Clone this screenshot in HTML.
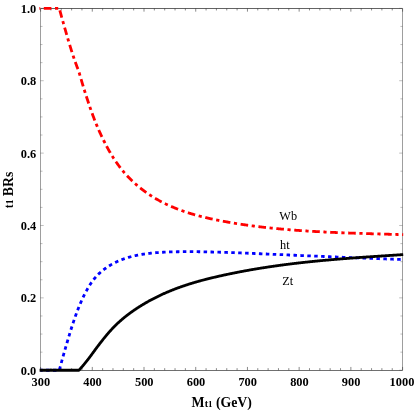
<!DOCTYPE html>
<html><head><meta charset="utf-8"><title>plot</title>
<style>
html,body{margin:0;padding:0;background:#fff;}
svg{display:block;will-change:transform;font-family:"Liberation Serif",serif;}
</style></head><body>
<svg width="415" height="410" viewBox="0 0 415 410">
<rect width="415" height="410" fill="#fff"/>
<path d="M40 8.5 H403" stroke="#646464" stroke-width="1" fill="none"/><path d="M40 370.5 H403" stroke="#707070" stroke-width="1" fill="none"/><path d="M40.5 8 V371 M402.5 8 V371" stroke="#9e9e9e" stroke-width="1" fill="none"/><path d="M40.58 370.25 v-3.30 M40.58 8.35 v3.30 M50.92 370.25 v-2.10 M50.92 8.35 v2.10 M61.27 370.25 v-2.10 M61.27 8.35 v2.10 M71.61 370.25 v-2.10 M71.61 8.35 v2.10 M81.95 370.25 v-2.10 M81.95 8.35 v2.10 M92.29 370.25 v-3.30 M92.29 8.35 v3.30 M102.64 370.25 v-2.10 M102.64 8.35 v2.10 M112.98 370.25 v-2.10 M112.98 8.35 v2.10 M123.32 370.25 v-2.10 M123.32 8.35 v2.10 M133.67 370.25 v-2.10 M133.67 8.35 v2.10 M144.01 370.25 v-3.30 M144.01 8.35 v3.30 M154.35 370.25 v-2.10 M154.35 8.35 v2.10 M164.69 370.25 v-2.10 M164.69 8.35 v2.10 M175.04 370.25 v-2.10 M175.04 8.35 v2.10 M185.38 370.25 v-2.10 M185.38 8.35 v2.10 M195.72 370.25 v-3.30 M195.72 8.35 v3.30 M206.07 370.25 v-2.10 M206.07 8.35 v2.10 M216.41 370.25 v-2.10 M216.41 8.35 v2.10 M226.75 370.25 v-2.10 M226.75 8.35 v2.10 M237.09 370.25 v-2.10 M237.09 8.35 v2.10 M247.44 370.25 v-3.30 M247.44 8.35 v3.30 M257.78 370.25 v-2.10 M257.78 8.35 v2.10 M268.12 370.25 v-2.10 M268.12 8.35 v2.10 M278.47 370.25 v-2.10 M278.47 8.35 v2.10 M288.81 370.25 v-2.10 M288.81 8.35 v2.10 M299.15 370.25 v-3.30 M299.15 8.35 v3.30 M309.49 370.25 v-2.10 M309.49 8.35 v2.10 M319.84 370.25 v-2.10 M319.84 8.35 v2.10 M330.18 370.25 v-2.10 M330.18 8.35 v2.10 M340.52 370.25 v-2.10 M340.52 8.35 v2.10 M350.87 370.25 v-3.30 M350.87 8.35 v3.30 M361.21 370.25 v-2.10 M361.21 8.35 v2.10 M371.55 370.25 v-2.10 M371.55 8.35 v2.10 M381.89 370.25 v-2.10 M381.89 8.35 v2.10 M392.24 370.25 v-2.10 M392.24 8.35 v2.10 M402.58 370.25 v-3.30 M402.58 8.35 v3.30" stroke="#3a3a3a" stroke-width="0.6" fill="none"/><path d="M40.40 370.25 h3.30 M402.50 370.25 h-3.30 M40.40 352.15 h2.10 M402.50 352.15 h-2.10 M40.40 334.06 h2.10 M402.50 334.06 h-2.10 M40.40 315.97 h2.10 M402.50 315.97 h-2.10 M40.40 297.87 h3.30 M402.50 297.87 h-3.30 M40.40 279.77 h2.10 M402.50 279.77 h-2.10 M40.40 261.68 h2.10 M402.50 261.68 h-2.10 M40.40 243.59 h2.10 M402.50 243.59 h-2.10 M40.40 225.49 h3.30 M402.50 225.49 h-3.30 M40.40 207.40 h2.10 M402.50 207.40 h-2.10 M40.40 189.30 h2.10 M402.50 189.30 h-2.10 M40.40 171.21 h2.10 M402.50 171.21 h-2.10 M40.40 153.11 h3.30 M402.50 153.11 h-3.30 M40.40 135.02 h2.10 M402.50 135.02 h-2.10 M40.40 116.92 h2.10 M402.50 116.92 h-2.10 M40.40 98.83 h2.10 M402.50 98.83 h-2.10 M40.40 80.73 h3.30 M402.50 80.73 h-3.30 M40.40 62.63 h2.10 M402.50 62.63 h-2.10 M40.40 44.54 h2.10 M402.50 44.54 h-2.10 M40.40 26.45 h2.10 M402.50 26.45 h-2.10 M40.40 8.35 h3.30 M402.50 8.35 h-3.30" stroke="#444" stroke-width="0.35" fill="none"/>
<polyline points="39.40,8.35 59.30,8.35" fill="none" stroke="#f00" stroke-width="2.8" stroke-dasharray="3.2 3.6 7.6 3.6" stroke-dashoffset="2.40"/>
<polyline points="59.30,8.35 59.80,10.23 60.30,12.10 60.80,13.95 61.30,15.78 61.80,17.60 62.30,19.40 62.80,21.19 63.30,22.97 63.80,24.73 64.30,26.49 64.80,28.23 65.30,29.97 65.80,31.70 66.30,33.42 66.80,35.14 67.30,36.84 67.80,38.54 68.30,40.23 68.80,41.90 69.30,43.56 69.80,45.21 70.30,46.84 70.80,48.46 71.30,50.06 71.80,51.64 72.30,53.20 72.80,54.74 73.30,56.25 73.80,57.75 74.30,59.22 74.80,60.66 75.30,62.08 75.80,63.48 76.30,64.85 76.80,66.20 77.30,67.52 77.80,68.82 78.30,70.10 78.80,71.36 79.30,73.03 79.80,74.79 80.30,76.54 80.80,78.26 81.30,79.97 81.80,81.66 82.30,83.34 82.80,85.00 83.30,86.64 83.80,88.27 84.30,89.88 84.80,91.48 85.30,93.07 85.80,94.64 86.30,96.20 86.80,97.75 87.30,99.28 87.80,100.80 88.30,102.31 88.80,103.80 89.30,105.27 89.80,106.73 90.30,108.18 90.80,109.61 91.30,111.02 91.80,112.42 92.30,113.79 92.80,115.15 93.30,116.50 93.80,117.82 94.30,119.13 94.80,120.42 95.30,121.69 95.80,122.94 96.30,124.17 96.80,125.39 97.30,126.59 97.80,127.77 98.30,128.93 98.80,130.08 99.30,131.21 99.80,132.33 100.30,133.43 100.80,134.52 101.30,135.59 101.80,136.65 102.30,137.70 102.80,138.73 103.30,139.75 103.80,140.75 104.30,141.75 104.80,142.73 105.30,143.70 105.80,144.66 106.30,145.61 106.80,146.55 107.30,147.48 107.80,148.39 108.30,149.30 108.80,150.19 109.30,151.07 109.80,151.94 110.30,152.80 110.80,153.65 111.30,154.49 111.80,155.31 112.30,156.12 112.80,156.93 113.30,157.72 113.80,158.50 114.30,159.27 114.80,160.02 115.30,160.77 115.80,161.51 116.30,162.24 116.80,162.95 117.30,163.66 117.80,164.36 118.30,165.05 118.80,165.72 119.30,166.39 119.80,167.05 120.30,167.70 120.80,168.35 121.30,168.98 121.80,169.61 122.30,170.22 122.80,170.83 123.30,171.43 123.80,172.03 124.30,172.61 124.80,173.19 125.30,173.76 125.80,174.32 126.30,174.88 126.80,175.42 127.30,175.96 127.80,176.50 128.30,177.03 128.80,177.55 129.30,178.06 129.80,178.57 130.30,179.07 130.80,179.57 131.30,180.06 131.80,180.54 132.30,181.02 132.80,181.50 133.30,181.96 133.80,182.43 134.30,182.88 134.80,183.34 135.30,183.78 135.80,184.23 136.30,184.67 136.80,185.10 137.30,185.53 137.80,185.95 138.30,186.37 138.80,186.79 139.30,187.20 139.80,187.61 140.30,188.01 140.80,188.41 141.30,188.81 141.80,189.20 142.30,189.59 142.80,189.97 143.30,190.35 143.80,190.73 144.30,191.10 144.80,191.47 145.30,191.83 145.80,192.19 146.30,192.55 146.80,192.90 147.30,193.25 147.80,193.60 148.30,193.94 148.80,194.28 149.30,194.61 149.80,194.94 150.30,195.27 150.80,195.60 151.30,195.92 151.80,196.24 152.30,196.55 152.80,196.87 153.30,197.18 153.80,197.48 154.30,197.78 154.80,198.08 155.30,198.38 155.80,198.67 156.30,198.96 156.80,199.25 157.30,199.54 157.80,199.82 158.30,200.10 158.80,200.37 159.30,200.65 159.80,200.92 160.30,201.19 160.80,201.45 161.30,201.71 161.80,201.97 162.30,202.23 162.80,202.49 163.30,202.74 163.80,202.99 164.30,203.24 164.80,203.48 165.30,203.72 165.80,203.97 166.30,204.20 166.80,204.44 167.30,204.67 167.80,204.91 168.30,205.14 168.80,205.36 169.30,205.59 169.80,205.81 170.30,206.03 170.80,206.25 171.30,206.47 171.80,206.69 172.30,206.90 172.80,207.11 173.30,207.32 173.80,207.53 174.30,207.74 174.80,207.94 175.30,208.15 175.80,208.35 176.30,208.55 176.80,208.74 177.30,208.94 177.80,209.13 178.30,209.32 178.80,209.52 179.30,209.70 179.80,209.89 180.30,210.08 180.80,210.26 181.30,210.44 181.80,210.62 182.30,210.80 182.80,210.98 183.30,211.15 183.80,211.33 184.30,211.50 184.80,211.67 185.30,211.84 185.80,212.01 186.30,212.17 186.80,212.34 187.30,212.50 187.80,212.66 188.30,212.82 188.80,212.98 189.30,213.14 189.80,213.29 190.30,213.45 190.80,213.60 191.30,213.75 191.80,213.90 192.30,214.05 192.80,214.20 193.30,214.35 193.80,214.49 194.30,214.64 194.80,214.78 195.30,214.92 195.80,215.06 196.30,215.20 196.80,215.34 197.30,215.47 197.80,215.61 198.30,215.74 198.80,215.88 199.30,216.01 199.80,216.14 200.30,216.27 200.80,216.40 201.30,216.53 201.80,216.65 202.30,216.78 202.80,216.90 203.30,217.02 203.80,217.15 204.30,217.27 204.80,217.39 205.30,217.51 205.80,217.63 206.30,217.74 206.80,217.86 207.30,217.97 207.80,218.09 208.30,218.20 208.80,218.32 209.30,218.43 209.80,218.54 210.30,218.65 210.80,218.76 211.30,218.87 211.80,218.98 212.30,219.08 212.80,219.19 213.30,219.29 213.80,219.40 214.30,219.50 214.80,219.61 215.30,219.71 215.80,219.81 216.30,219.91 216.80,220.01 217.30,220.11 217.80,220.21 218.30,220.31 218.80,220.41 219.30,220.51 219.80,220.61 220.30,220.70 220.80,220.80 221.30,220.89 221.80,220.99 222.30,221.08 222.80,221.18 223.30,221.27 223.80,221.37 224.30,221.46 224.80,221.55 225.30,221.64 225.80,221.73 226.30,221.82 226.80,221.91 227.30,222.00 227.80,222.09 228.30,222.18 228.80,222.27 229.30,222.35 229.80,222.44 230.30,222.53 230.80,222.61 231.30,222.70 231.80,222.78 232.30,222.87 232.80,222.95 233.30,223.03 233.80,223.12 234.30,223.20 234.80,223.28 235.30,223.36 235.80,223.44 236.30,223.52 236.80,223.60 237.30,223.68 237.80,223.76 238.30,223.84 238.80,223.92 239.30,224.00 239.80,224.08 240.30,224.15 240.80,224.23 241.30,224.30 241.80,224.38 242.30,224.45 242.80,224.53 243.30,224.60 243.80,224.68 244.30,224.75 244.80,224.82 245.30,224.89 245.80,224.97 246.30,225.04 246.80,225.11 247.30,225.18 247.80,225.25 248.30,225.32 248.80,225.39 249.30,225.46 249.80,225.52 250.30,225.59 250.80,225.66 251.30,225.73 251.80,225.79 252.30,225.86 252.80,225.93 253.30,225.99 253.80,226.06 254.30,226.12 254.80,226.18 255.30,226.25 255.80,226.31 256.30,226.37 256.80,226.44 257.30,226.50 257.80,226.56 258.30,226.62 258.80,226.68 259.30,226.74 259.80,226.80 260.30,226.86 260.80,226.92 261.30,226.98 261.80,227.04 262.30,227.10 262.80,227.16 263.30,227.21 263.80,227.27 264.30,227.33 264.80,227.38 265.30,227.44 265.80,227.50 266.30,227.55 266.80,227.61 267.30,227.66 267.80,227.72 268.30,227.77 268.80,227.82 269.30,227.88 269.80,227.93 270.30,227.98 270.80,228.03 271.30,228.08 271.80,228.14 272.30,228.19 272.80,228.24 273.30,228.29 273.80,228.34 274.30,228.39 274.80,228.44 275.30,228.49 275.80,228.54 276.30,228.58 276.80,228.63 277.30,228.68 277.80,228.73 278.30,228.77 278.80,228.82 279.30,228.87 279.80,228.91 280.30,228.96 280.80,229.01 281.30,229.05 281.80,229.10 282.30,229.14 282.80,229.18 283.30,229.23 283.80,229.27 284.30,229.32 284.80,229.36 285.30,229.40 285.80,229.44 286.30,229.49 286.80,229.53 287.30,229.57 287.80,229.61 288.30,229.65 288.80,229.69 289.30,229.74 289.80,229.78 290.30,229.82 290.80,229.86 291.30,229.89 291.80,229.93 292.30,229.97 292.80,230.01 293.30,230.05 293.80,230.09 294.30,230.13 294.80,230.16 295.30,230.20 295.80,230.24 296.30,230.28 296.80,230.31 297.30,230.35 297.80,230.39 298.30,230.42 298.80,230.46 299.30,230.49 299.80,230.53 300.30,230.56 300.80,230.60 301.30,230.63 301.80,230.67 302.30,230.70 302.80,230.73 303.30,230.77 303.80,230.80 304.30,230.83 304.80,230.87 305.30,230.90 305.80,230.93 306.30,230.96 306.80,230.99 307.30,231.03 307.80,231.06 308.30,231.09 308.80,231.12 309.30,231.15 309.80,231.18 310.30,231.21 310.80,231.24 311.30,231.27 311.80,231.30 312.30,231.33 312.80,231.36 313.30,231.39 313.80,231.42 314.30,231.45 314.80,231.48 315.30,231.50 315.80,231.53 316.30,231.56 316.80,231.59 317.30,231.62 317.80,231.64 318.30,231.67 318.80,231.70 319.30,231.72 319.80,231.75 320.30,231.78 320.80,231.80 321.30,231.83 321.80,231.85 322.30,231.88 322.80,231.91 323.30,231.93 323.80,231.96 324.30,231.98 324.80,232.01 325.30,232.03 325.80,232.05 326.30,232.08 326.80,232.10 327.30,232.13 327.80,232.15 328.30,232.17 328.80,232.20 329.30,232.22 329.80,232.24 330.30,232.27 330.80,232.29 331.30,232.31 331.80,232.33 332.30,232.36 332.80,232.38 333.30,232.40 333.80,232.42 334.30,232.45 334.80,232.47 335.30,232.49 335.80,232.51 336.30,232.53 336.80,232.55 337.30,232.57 337.80,232.59 338.30,232.61 338.80,232.63 339.30,232.65 339.80,232.67 340.30,232.69 340.80,232.71 341.30,232.73 341.80,232.75 342.30,232.77 342.80,232.79 343.30,232.81 343.80,232.83 344.30,232.85 344.80,232.87 345.30,232.89 345.80,232.91 346.30,232.93 346.80,232.94 347.30,232.96 347.80,232.98 348.30,233.00 348.80,233.02 349.30,233.04 349.80,233.05 350.30,233.07 350.80,233.09 351.30,233.11 351.80,233.12 352.30,233.14 352.80,233.16 353.30,233.18 353.80,233.19 354.30,233.21 354.80,233.23 355.30,233.24 355.80,233.26 356.30,233.28 356.80,233.29 357.30,233.31 357.80,233.33 358.30,233.34 358.80,233.36 359.30,233.38 359.80,233.39 360.30,233.41 360.80,233.42 361.30,233.44 361.80,233.46 362.30,233.47 362.80,233.49 363.30,233.50 363.80,233.52 364.30,233.53 364.80,233.55 365.30,233.57 365.80,233.58 366.30,233.60 366.80,233.61 367.30,233.63 367.80,233.64 368.30,233.66 368.80,233.67 369.30,233.69 369.80,233.70 370.30,233.72 370.80,233.73 371.30,233.75 371.80,233.76 372.30,233.78 372.80,233.79 373.30,233.81 373.80,233.82 374.30,233.83 374.80,233.85 375.30,233.86 375.80,233.88 376.30,233.89 376.80,233.91 377.30,233.92 377.80,233.94 378.30,233.95 378.80,233.97 379.30,233.98 379.80,233.99 380.30,234.01 380.80,234.02 381.30,234.04 381.80,234.05 382.30,234.07 382.80,234.08 383.30,234.09 383.80,234.11 384.30,234.12 384.80,234.14 385.30,234.15 385.80,234.17 386.30,234.18 386.80,234.19 387.30,234.21 387.80,234.22 388.30,234.24 388.80,234.25 389.30,234.27 389.80,234.28 390.30,234.29 390.80,234.31 391.30,234.32 391.80,234.34 392.30,234.35 392.80,234.37 393.30,234.38 393.80,234.40 394.30,234.41 394.80,234.42 395.30,234.44 395.80,234.45 396.30,234.47 396.80,234.48 397.30,234.50 397.80,234.51 398.30,234.53 398.80,234.54 399.30,234.56 399.80,234.57 400.30,234.59 400.80,234.60 401.30,234.62 401.80,234.63 402.30,234.65 402.50,234.65 403.20,234.67" fill="none" stroke="#f00" stroke-width="2.8" stroke-dasharray="3.2 3.6 7.6 3.6" stroke-dashoffset="4.80" stroke-linejoin="round"/>
<polyline points="40.40,370.25 59.30,370.25 59.80,368.37 60.30,366.50 60.80,364.65 61.30,362.82 61.80,361.00 62.30,359.20 62.80,357.41 63.30,355.63 63.80,353.87 64.30,352.11 64.80,350.37 65.30,348.63 65.80,346.90 66.30,345.18 66.80,343.46 67.30,341.76 67.80,340.06 68.30,338.37 68.80,336.70 69.30,335.04 69.80,333.39 70.30,331.76 70.80,330.14 71.30,328.54 71.80,326.96 72.30,325.40 72.80,323.86 73.30,322.35 73.80,320.85 74.30,319.38 74.80,317.94 75.30,316.52 75.80,315.12 76.30,313.75 76.80,312.40 77.30,311.08 77.80,309.78 78.30,308.50 78.80,307.24 79.30,306.01 79.80,304.80 80.30,303.62 80.80,302.45 81.30,301.31 81.80,300.19 82.30,299.09 82.80,298.01 83.30,296.95 83.80,295.92 84.30,294.90 84.80,293.91 85.30,292.93 85.80,291.98 86.30,291.05 86.80,290.13 87.30,289.24 87.80,288.37 88.30,287.51 88.80,286.68 89.30,285.86 89.80,285.07 90.30,284.30 90.80,283.54 91.30,282.80 91.80,282.08 92.30,281.39 92.80,280.71 93.30,280.04 93.80,279.40 94.30,278.77 94.80,278.17 95.30,277.57 95.80,277.00 96.30,276.44 96.80,275.89 97.30,275.37 97.80,274.85 98.30,274.35 98.80,273.86 99.30,273.38 99.80,272.92 100.30,272.47 100.80,272.03 101.30,271.60 101.80,271.18 102.30,270.77 102.80,270.37 103.30,269.98 103.80,269.59 104.30,269.22 104.80,268.85 105.30,268.48 105.80,268.13 106.30,267.78 106.80,267.44 107.30,267.10 107.80,266.77 108.30,266.44 108.80,266.12 109.30,265.81 109.80,265.50 110.30,265.20 110.80,264.90 111.30,264.61 111.80,264.33 112.30,264.05 112.80,263.77 113.30,263.51 113.80,263.24 114.30,262.98 114.80,262.73 115.30,262.48 115.80,262.23 116.30,261.99 116.80,261.76 117.30,261.53 117.80,261.30 118.30,261.08 118.80,260.86 119.30,260.65 119.80,260.44 120.30,260.23 120.80,260.03 121.30,259.83 121.80,259.64 122.30,259.45 122.80,259.26 123.30,259.08 123.80,258.90 124.30,258.72 124.80,258.55 125.30,258.38 125.80,258.22 126.30,258.05 126.80,257.89 127.30,257.74 127.80,257.59 128.30,257.44 128.80,257.29 129.30,257.15 129.80,257.01 130.30,256.87 130.80,256.74 131.30,256.61 131.80,256.48 132.30,256.35 132.80,256.23 133.30,256.11 133.80,255.99 134.30,255.88 134.80,255.76 135.30,255.65 135.80,255.55 136.30,255.44 136.80,255.34 137.30,255.24 137.80,255.14 138.30,255.04 138.80,254.95 139.30,254.85 139.80,254.76 140.30,254.67 140.80,254.58 141.30,254.50 141.80,254.42 142.30,254.33 142.80,254.25 143.30,254.18 143.80,254.10 144.30,254.02 144.80,253.95 145.30,253.88 145.80,253.81 146.30,253.74 146.80,253.68 147.30,253.61 147.80,253.55 148.30,253.49 148.80,253.43 149.30,253.37 149.80,253.31 150.30,253.25 150.80,253.20 151.30,253.14 151.80,253.09 152.30,253.04 152.80,252.99 153.30,252.95 153.80,252.90 154.30,252.85 154.80,252.81 155.30,252.77 155.80,252.72 156.30,252.68 156.80,252.65 157.30,252.61 157.80,252.57 158.30,252.53 158.80,252.50 159.30,252.46 159.80,252.43 160.30,252.40 160.80,252.37 161.30,252.34 161.80,252.31 162.30,252.28 162.80,252.25 163.30,252.23 163.80,252.20 164.30,252.18 164.80,252.15 165.30,252.13 165.80,252.11 166.30,252.09 166.80,252.07 167.30,252.04 167.80,252.03 168.30,252.01 168.80,251.99 169.30,251.97 169.80,251.95 170.30,251.94 170.80,251.92 171.30,251.90 171.80,251.89 172.30,251.87 172.80,251.86 173.30,251.85 173.80,251.83 174.30,251.82 174.80,251.81 175.30,251.80 175.80,251.79 176.30,251.78 176.80,251.77 177.30,251.76 177.80,251.75 178.30,251.74 178.80,251.73 179.30,251.72 179.80,251.72 180.30,251.71 180.80,251.70 181.30,251.70 181.80,251.69 182.30,251.69 182.80,251.68 183.30,251.68 183.80,251.67 184.30,251.67 184.80,251.67 185.30,251.66 185.80,251.66 186.30,251.66 186.80,251.66 187.30,251.66 187.80,251.66 188.30,251.66 188.80,251.66 189.30,251.66 189.80,251.66 190.30,251.66 190.80,251.66 191.30,251.66 191.80,251.67 192.30,251.67 192.80,251.67 193.30,251.68 193.80,251.68 194.30,251.68 194.80,251.69 195.30,251.69 195.80,251.70 196.30,251.70 196.80,251.71 197.30,251.72 197.80,251.72 198.30,251.73 198.80,251.74 199.30,251.74 199.80,251.75 200.30,251.76 200.80,251.77 201.30,251.78 201.80,251.78 202.30,251.79 202.80,251.80 203.30,251.81 203.80,251.82 204.30,251.83 204.80,251.84 205.30,251.85 205.80,251.86 206.30,251.87 206.80,251.88 207.30,251.90 207.80,251.91 208.30,251.92 208.80,251.93 209.30,251.94 209.80,251.95 210.30,251.97 210.80,251.98 211.30,251.99 211.80,252.01 212.30,252.02 212.80,252.03 213.30,252.05 213.80,252.06 214.30,252.07 214.80,252.09 215.30,252.10 215.80,252.12 216.30,252.13 216.80,252.14 217.30,252.16 217.80,252.17 218.30,252.19 218.80,252.20 219.30,252.22 219.80,252.23 220.30,252.25 220.80,252.27 221.30,252.28 221.80,252.30 222.30,252.31 222.80,252.33 223.30,252.34 223.80,252.36 224.30,252.38 224.80,252.39 225.30,252.41 225.80,252.43 226.30,252.44 226.80,252.46 227.30,252.48 227.80,252.49 228.30,252.51 228.80,252.53 229.30,252.54 229.80,252.56 230.30,252.58 230.80,252.60 231.30,252.61 231.80,252.63 232.30,252.65 232.80,252.67 233.30,252.68 233.80,252.70 234.30,252.72 234.80,252.74 235.30,252.76 235.80,252.78 236.30,252.79 236.80,252.81 237.30,252.83 237.80,252.85 238.30,252.87 238.80,252.89 239.30,252.90 239.80,252.92 240.30,252.94 240.80,252.96 241.30,252.98 241.80,253.00 242.30,253.02 242.80,253.04 243.30,253.06 243.80,253.08 244.30,253.10 244.80,253.12 245.30,253.14 245.80,253.15 246.30,253.17 246.80,253.19 247.30,253.21 247.80,253.23 248.30,253.25 248.80,253.27 249.30,253.29 249.80,253.31 250.30,253.33 250.80,253.35 251.30,253.37 251.80,253.40 252.30,253.42 252.80,253.44 253.30,253.46 253.80,253.48 254.30,253.50 254.80,253.52 255.30,253.54 255.80,253.56 256.30,253.58 256.80,253.60 257.30,253.62 257.80,253.64 258.30,253.66 258.80,253.68 259.30,253.71 259.80,253.73 260.30,253.75 260.80,253.77 261.30,253.79 261.80,253.81 262.30,253.83 262.80,253.85 263.30,253.87 263.80,253.90 264.30,253.92 264.80,253.94 265.30,253.96 265.80,253.98 266.30,254.00 266.80,254.02 267.30,254.05 267.80,254.07 268.30,254.09 268.80,254.11 269.30,254.13 269.80,254.15 270.30,254.18 270.80,254.20 271.30,254.22 271.80,254.24 272.30,254.26 272.80,254.29 273.30,254.31 273.80,254.33 274.30,254.35 274.80,254.37 275.30,254.39 275.80,254.42 276.30,254.44 276.80,254.46 277.30,254.48 277.80,254.50 278.30,254.53 278.80,254.55 279.30,254.57 279.80,254.59 280.30,254.61 280.80,254.64 281.30,254.66 281.80,254.68 282.30,254.70 282.80,254.72 283.30,254.75 283.80,254.77 284.30,254.79 284.80,254.81 285.30,254.83 285.80,254.86 286.30,254.88 286.80,254.90 287.30,254.92 287.80,254.94 288.30,254.97 288.80,254.99 289.30,255.01 289.80,255.03 290.30,255.05 290.80,255.08 291.30,255.10 291.80,255.12 292.30,255.14 292.80,255.16 293.30,255.19 293.80,255.21 294.30,255.23 294.80,255.25 295.30,255.27 295.80,255.29 296.30,255.32 296.80,255.34 297.30,255.36 297.80,255.38 298.30,255.40 298.80,255.43 299.30,255.45 299.80,255.47 300.30,255.49 300.80,255.51 301.30,255.53 301.80,255.56 302.30,255.58 302.80,255.60 303.30,255.62 303.80,255.64 304.30,255.66 304.80,255.69 305.30,255.71 305.80,255.73 306.30,255.75 306.80,255.77 307.30,255.79 307.80,255.82 308.30,255.84 308.80,255.86 309.30,255.88 309.80,255.90 310.30,255.92 310.80,255.94 311.30,255.97 311.80,255.99 312.30,256.01 312.80,256.03 313.30,256.05 313.80,256.07 314.30,256.09 314.80,256.12 315.30,256.14 315.80,256.16 316.30,256.18 316.80,256.20 317.30,256.22 317.80,256.24 318.30,256.26 318.80,256.29 319.30,256.31 319.80,256.33 320.30,256.35 320.80,256.37 321.30,256.39 321.80,256.41 322.30,256.43 322.80,256.46 323.30,256.48 323.80,256.50 324.30,256.52 324.80,256.54 325.30,256.56 325.80,256.58 326.30,256.60 326.80,256.62 327.30,256.64 327.80,256.67 328.30,256.69 328.80,256.71 329.30,256.73 329.80,256.75 330.30,256.77 330.80,256.79 331.30,256.81 331.80,256.83 332.30,256.85 332.80,256.87 333.30,256.90 333.80,256.92 334.30,256.94 334.80,256.96 335.30,256.98 335.80,257.00 336.30,257.02 336.80,257.04 337.30,257.06 337.80,257.08 338.30,257.10 338.80,257.12 339.30,257.14 339.80,257.16 340.30,257.18 340.80,257.20 341.30,257.23 341.80,257.25 342.30,257.27 342.80,257.29 343.30,257.31 343.80,257.33 344.30,257.35 344.80,257.37 345.30,257.39 345.80,257.41 346.30,257.43 346.80,257.45 347.30,257.47 347.80,257.49 348.30,257.51 348.80,257.53 349.30,257.55 349.80,257.57 350.30,257.59 350.80,257.61 351.30,257.63 351.80,257.65 352.30,257.67 352.80,257.69 353.30,257.71 353.80,257.73 354.30,257.75 354.80,257.77 355.30,257.79 355.80,257.81 356.30,257.83 356.80,257.85 357.30,257.87 357.80,257.89 358.30,257.91 358.80,257.93 359.30,257.95 359.80,257.97 360.30,257.99 360.80,258.01 361.30,258.03 361.80,258.05 362.30,258.07 362.80,258.09 363.30,258.11 363.80,258.13 364.30,258.15 364.80,258.17 365.30,258.18 365.80,258.20 366.30,258.22 366.80,258.24 367.30,258.26 367.80,258.28 368.30,258.30 368.80,258.32 369.30,258.34 369.80,258.36 370.30,258.38 370.80,258.40 371.30,258.42 371.80,258.44 372.30,258.45 372.80,258.47 373.30,258.49 373.80,258.51 374.30,258.53 374.80,258.55 375.30,258.57 375.80,258.59 376.30,258.61 376.80,258.63 377.30,258.64 377.80,258.66 378.30,258.68 378.80,258.70 379.30,258.72 379.80,258.74 380.30,258.76 380.80,258.78 381.30,258.80 381.80,258.81 382.30,258.83 382.80,258.85 383.30,258.87 383.80,258.89 384.30,258.91 384.80,258.93 385.30,258.94 385.80,258.96 386.30,258.98 386.80,259.00 387.30,259.02 387.80,259.04 388.30,259.05 388.80,259.07 389.30,259.09 389.80,259.11 390.30,259.13 390.80,259.15 391.30,259.16 391.80,259.18 392.30,259.20 392.80,259.22 393.30,259.24 393.80,259.25 394.30,259.27 394.80,259.29 395.30,259.31 395.80,259.33 396.30,259.34 396.80,259.36 397.30,259.38 397.80,259.40 398.30,259.41 398.80,259.43 399.30,259.45 399.80,259.47 400.30,259.49 400.80,259.50 401.30,259.52 401.80,259.54 402.30,259.56 402.50,259.56 403.20,259.59" fill="none" stroke="#00f" stroke-width="2.8" stroke-dasharray="3.5 3.418206312510577" stroke-dashoffset="1.27" stroke-linejoin="round"/>
<polyline points="39.60,370.25 78.90,370.25 79.40,369.70 79.90,369.14 80.40,368.59 80.90,368.02 81.40,367.46 81.90,366.88 82.40,366.31 82.90,365.73 83.40,365.14 83.90,364.54 84.40,363.94 84.90,363.34 85.40,362.72 85.90,362.10 86.40,361.48 86.90,360.84 87.40,360.20 87.90,359.55 88.40,358.90 88.90,358.24 89.40,357.58 89.90,356.91 90.40,356.24 90.90,355.57 91.40,354.89 91.90,354.21 92.40,353.53 92.90,352.85 93.40,352.17 93.90,351.49 94.40,350.81 94.90,350.13 95.40,349.45 95.90,348.78 96.40,348.10 96.90,347.43 97.40,346.76 97.90,346.10 98.40,345.44 98.90,344.78 99.40,344.12 99.90,343.47 100.40,342.82 100.90,342.17 101.40,341.53 101.90,340.89 102.40,340.26 102.90,339.63 103.40,339.00 103.90,338.38 104.40,337.76 104.90,337.15 105.40,336.54 105.90,335.94 106.40,335.34 106.90,334.75 107.40,334.16 107.90,333.57 108.40,333.00 108.90,332.42 109.40,331.85 109.90,331.29 110.40,330.74 110.90,330.19 111.40,329.64 111.90,329.10 112.40,328.57 112.90,328.04 113.40,327.52 113.90,327.01 114.40,326.50 114.90,326.00 115.40,325.50 115.90,325.01 116.40,324.52 116.90,324.04 117.40,323.57 117.90,323.10 118.40,322.63 118.90,322.18 119.40,321.72 119.90,321.27 120.40,320.83 120.90,320.39 121.40,319.95 121.90,319.52 122.40,319.10 122.90,318.67 123.40,318.26 123.90,317.84 124.40,317.44 124.90,317.03 125.40,316.63 125.90,316.24 126.40,315.84 126.90,315.45 127.40,315.07 127.90,314.69 128.40,314.31 128.90,313.93 129.40,313.56 129.90,313.20 130.40,312.83 130.90,312.47 131.40,312.11 131.90,311.76 132.40,311.40 132.90,311.05 133.40,310.71 133.90,310.36 134.40,310.02 134.90,309.68 135.40,309.34 135.90,309.01 136.40,308.68 136.90,308.35 137.40,308.02 137.90,307.69 138.40,307.37 138.90,307.05 139.40,306.73 139.90,306.42 140.40,306.10 140.90,305.79 141.40,305.48 141.90,305.17 142.40,304.87 142.90,304.56 143.40,304.26 143.90,303.96 144.40,303.67 144.90,303.37 145.40,303.08 145.90,302.79 146.40,302.50 146.90,302.22 147.40,301.93 147.90,301.65 148.40,301.37 148.90,301.09 149.40,300.82 149.90,300.54 150.40,300.27 150.90,300.00 151.40,299.73 151.90,299.46 152.40,299.20 152.90,298.94 153.40,298.68 153.90,298.42 154.40,298.16 154.90,297.91 155.40,297.65 155.90,297.40 156.40,297.15 156.90,296.90 157.40,296.66 157.90,296.41 158.40,296.17 158.90,295.93 159.40,295.69 159.90,295.45 160.40,295.22 160.90,294.98 161.40,294.75 161.90,294.52 162.40,294.29 162.90,294.06 163.40,293.84 163.90,293.61 164.40,293.39 164.90,293.17 165.40,292.95 165.90,292.73 166.40,292.52 166.90,292.30 167.40,292.09 167.90,291.88 168.40,291.67 168.90,291.46 169.40,291.25 169.90,291.04 170.40,290.84 170.90,290.64 171.40,290.43 171.90,290.23 172.40,290.03 172.90,289.84 173.40,289.64 173.90,289.45 174.40,289.25 174.90,289.06 175.40,288.87 175.90,288.68 176.40,288.49 176.90,288.30 177.40,288.12 177.90,287.93 178.40,287.75 178.90,287.57 179.40,287.39 179.90,287.21 180.40,287.03 180.90,286.85 181.40,286.68 181.90,286.50 182.40,286.33 182.90,286.16 183.40,285.99 183.90,285.82 184.40,285.65 184.90,285.48 185.40,285.31 185.90,285.15 186.40,284.98 186.90,284.82 187.40,284.66 187.90,284.50 188.40,284.34 188.90,284.18 189.40,284.02 189.90,283.86 190.40,283.71 190.90,283.55 191.40,283.40 191.90,283.25 192.40,283.10 192.90,282.94 193.40,282.79 193.90,282.65 194.40,282.50 194.90,282.35 195.40,282.21 195.90,282.06 196.40,281.92 196.90,281.77 197.40,281.63 197.90,281.49 198.40,281.35 198.90,281.21 199.40,281.07 199.90,280.93 200.40,280.79 200.90,280.66 201.40,280.52 201.90,280.39 202.40,280.25 202.90,280.12 203.40,279.99 203.90,279.86 204.40,279.73 204.90,279.60 205.40,279.47 205.90,279.34 206.40,279.21 206.90,279.08 207.40,278.96 207.90,278.83 208.40,278.70 208.90,278.58 209.40,278.46 209.90,278.33 210.40,278.21 210.90,278.09 211.40,277.97 211.90,277.85 212.40,277.73 212.90,277.61 213.40,277.49 213.90,277.37 214.40,277.25 214.90,277.13 215.40,277.02 215.90,276.90 216.40,276.78 216.90,276.67 217.40,276.55 217.90,276.44 218.40,276.33 218.90,276.21 219.40,276.10 219.90,275.99 220.40,275.87 220.90,275.76 221.40,275.65 221.90,275.54 222.40,275.43 222.90,275.32 223.40,275.21 223.90,275.10 224.40,274.99 224.90,274.89 225.40,274.78 225.90,274.67 226.40,274.56 226.90,274.46 227.40,274.35 227.90,274.25 228.40,274.14 228.90,274.04 229.40,273.93 229.90,273.83 230.40,273.72 230.90,273.62 231.40,273.52 231.90,273.41 232.40,273.31 232.90,273.21 233.40,273.11 233.90,273.01 234.40,272.91 234.90,272.81 235.40,272.71 235.90,272.61 236.40,272.51 236.90,272.41 237.40,272.32 237.90,272.22 238.40,272.12 238.90,272.02 239.40,271.93 239.90,271.83 240.40,271.74 240.90,271.64 241.40,271.55 241.90,271.45 242.40,271.36 242.90,271.26 243.40,271.17 243.90,271.08 244.40,270.99 244.90,270.89 245.40,270.80 245.90,270.71 246.40,270.62 246.90,270.53 247.40,270.44 247.90,270.35 248.40,270.26 248.90,270.17 249.40,270.08 249.90,269.99 250.40,269.91 250.90,269.82 251.40,269.73 251.90,269.64 252.40,269.56 252.90,269.47 253.40,269.39 253.90,269.30 254.40,269.22 254.90,269.13 255.40,269.05 255.90,268.96 256.40,268.88 256.90,268.80 257.40,268.71 257.90,268.63 258.40,268.55 258.90,268.47 259.40,268.38 259.90,268.30 260.40,268.22 260.90,268.14 261.40,268.06 261.90,267.98 262.40,267.90 262.90,267.82 263.40,267.75 263.90,267.67 264.40,267.59 264.90,267.51 265.40,267.43 265.90,267.36 266.40,267.28 266.90,267.20 267.40,267.13 267.90,267.05 268.40,266.98 268.90,266.90 269.40,266.83 269.90,266.75 270.40,266.68 270.90,266.60 271.40,266.53 271.90,266.46 272.40,266.38 272.90,266.31 273.40,266.24 273.90,266.17 274.40,266.10 274.90,266.03 275.40,265.95 275.90,265.88 276.40,265.81 276.90,265.74 277.40,265.67 277.90,265.60 278.40,265.54 278.90,265.47 279.40,265.40 279.90,265.33 280.40,265.26 280.90,265.20 281.40,265.13 281.90,265.06 282.40,264.99 282.90,264.93 283.40,264.86 283.90,264.80 284.40,264.73 284.90,264.67 285.40,264.60 285.90,264.54 286.40,264.47 286.90,264.41 287.40,264.34 287.90,264.28 288.40,264.22 288.90,264.16 289.40,264.09 289.90,264.03 290.40,263.97 290.90,263.91 291.40,263.85 291.90,263.78 292.40,263.72 292.90,263.66 293.40,263.60 293.90,263.54 294.40,263.48 294.90,263.42 295.40,263.36 295.90,263.30 296.40,263.25 296.90,263.19 297.40,263.13 297.90,263.07 298.40,263.01 298.90,262.96 299.40,262.90 299.90,262.84 300.40,262.79 300.90,262.73 301.40,262.67 301.90,262.62 302.40,262.56 302.90,262.51 303.40,262.45 303.90,262.40 304.40,262.34 304.90,262.29 305.40,262.23 305.90,262.18 306.40,262.13 306.90,262.07 307.40,262.02 307.90,261.97 308.40,261.91 308.90,261.86 309.40,261.81 309.90,261.76 310.40,261.70 310.90,261.65 311.40,261.60 311.90,261.55 312.40,261.50 312.90,261.45 313.40,261.40 313.90,261.35 314.40,261.30 314.90,261.25 315.40,261.20 315.90,261.15 316.40,261.10 316.90,261.05 317.40,261.00 317.90,260.95 318.40,260.91 318.90,260.86 319.40,260.81 319.90,260.76 320.40,260.71 320.90,260.67 321.40,260.62 321.90,260.57 322.40,260.53 322.90,260.48 323.40,260.43 323.90,260.39 324.40,260.34 324.90,260.30 325.40,260.25 325.90,260.20 326.40,260.16 326.90,260.11 327.40,260.07 327.90,260.02 328.40,259.98 328.90,259.94 329.40,259.89 329.90,259.85 330.40,259.80 330.90,259.76 331.40,259.72 331.90,259.67 332.40,259.63 332.90,259.59 333.40,259.54 333.90,259.50 334.40,259.46 334.90,259.42 335.40,259.38 335.90,259.33 336.40,259.29 336.90,259.25 337.40,259.21 337.90,259.17 338.40,259.13 338.90,259.08 339.40,259.04 339.90,259.00 340.40,258.96 340.90,258.92 341.40,258.88 341.90,258.84 342.40,258.80 342.90,258.76 343.40,258.72 343.90,258.68 344.40,258.64 344.90,258.60 345.40,258.56 345.90,258.53 346.40,258.49 346.90,258.45 347.40,258.41 347.90,258.37 348.40,258.33 348.90,258.29 349.40,258.26 349.90,258.22 350.40,258.18 350.90,258.14 351.40,258.10 351.90,258.07 352.40,258.03 352.90,257.99 353.40,257.96 353.90,257.92 354.40,257.88 354.90,257.84 355.40,257.81 355.90,257.77 356.40,257.73 356.90,257.70 357.40,257.66 357.90,257.63 358.40,257.59 358.90,257.55 359.40,257.52 359.90,257.48 360.40,257.45 360.90,257.41 361.40,257.37 361.90,257.34 362.40,257.30 362.90,257.27 363.40,257.23 363.90,257.20 364.40,257.16 364.90,257.13 365.40,257.09 365.90,257.06 366.40,257.02 366.90,256.99 367.40,256.95 367.90,256.92 368.40,256.89 368.90,256.85 369.40,256.82 369.90,256.78 370.40,256.75 370.90,256.71 371.40,256.68 371.90,256.65 372.40,256.61 372.90,256.58 373.40,256.54 373.90,256.51 374.40,256.48 374.90,256.44 375.40,256.41 375.90,256.38 376.40,256.34 376.90,256.31 377.40,256.28 377.90,256.24 378.40,256.21 378.90,256.18 379.40,256.14 379.90,256.11 380.40,256.08 380.90,256.04 381.40,256.01 381.90,255.98 382.40,255.95 382.90,255.91 383.40,255.88 383.90,255.85 384.40,255.81 384.90,255.78 385.40,255.75 385.90,255.72 386.40,255.68 386.90,255.65 387.40,255.62 387.90,255.59 388.40,255.55 388.90,255.52 389.40,255.49 389.90,255.45 390.40,255.42 390.90,255.39 391.40,255.36 391.90,255.32 392.40,255.29 392.90,255.26 393.40,255.23 393.90,255.19 394.40,255.16 394.90,255.13 395.40,255.10 395.90,255.07 396.40,255.03 396.90,255.00 397.40,254.97 397.90,254.94 398.40,254.90 398.90,254.87 399.40,254.84 399.90,254.81 400.40,254.77 400.90,254.74 401.40,254.71 401.90,254.67 402.40,254.64 402.50,254.64 403.20,254.59" fill="none" stroke="#000" stroke-width="2.8" stroke-linejoin="round"/>
<g font-weight="bold" font-size="12.4px" fill="#000"><text x="40.80" y="386.1" text-anchor="middle">300</text><text x="92.53" y="386.1" text-anchor="middle">400</text><text x="144.26" y="386.1" text-anchor="middle">500</text><text x="195.99" y="386.1" text-anchor="middle">600</text><text x="247.71" y="386.1" text-anchor="middle">700</text><text x="299.44" y="386.1" text-anchor="middle">800</text><text x="351.17" y="386.1" text-anchor="middle">900</text><text x="402.00" y="386.1" text-anchor="middle">1000</text><text x="36.2" y="374.65" text-anchor="end">0.0</text><text x="36.2" y="302.27" text-anchor="end">0.2</text><text x="36.2" y="229.89" text-anchor="end">0.4</text><text x="36.2" y="157.51" text-anchor="end">0.6</text><text x="36.2" y="85.13" text-anchor="end">0.8</text><text x="36.2" y="12.75" text-anchor="end">1.0</text></g>
<g font-size="12.3px" fill="#000">
<text x="279.3" y="219.7">Wb</text>
<text x="280.0" y="249">ht</text>
<text x="282.3" y="285">Zt</text>
</g>
<text x="191.6" y="406.9" font-weight="bold" font-size="13.8px">M<tspan font-size="10px">t</tspan><tspan font-size="9px">1</tspan> (GeV)</text>
<text transform="translate(12.8 208.2) rotate(-90) scale(1 1.1)" font-weight="bold" font-size="13.8px"><tspan font-size="11.5px">t</tspan><tspan font-size="9.5px">1</tspan> BRs</text>
</svg>
</body></html>
